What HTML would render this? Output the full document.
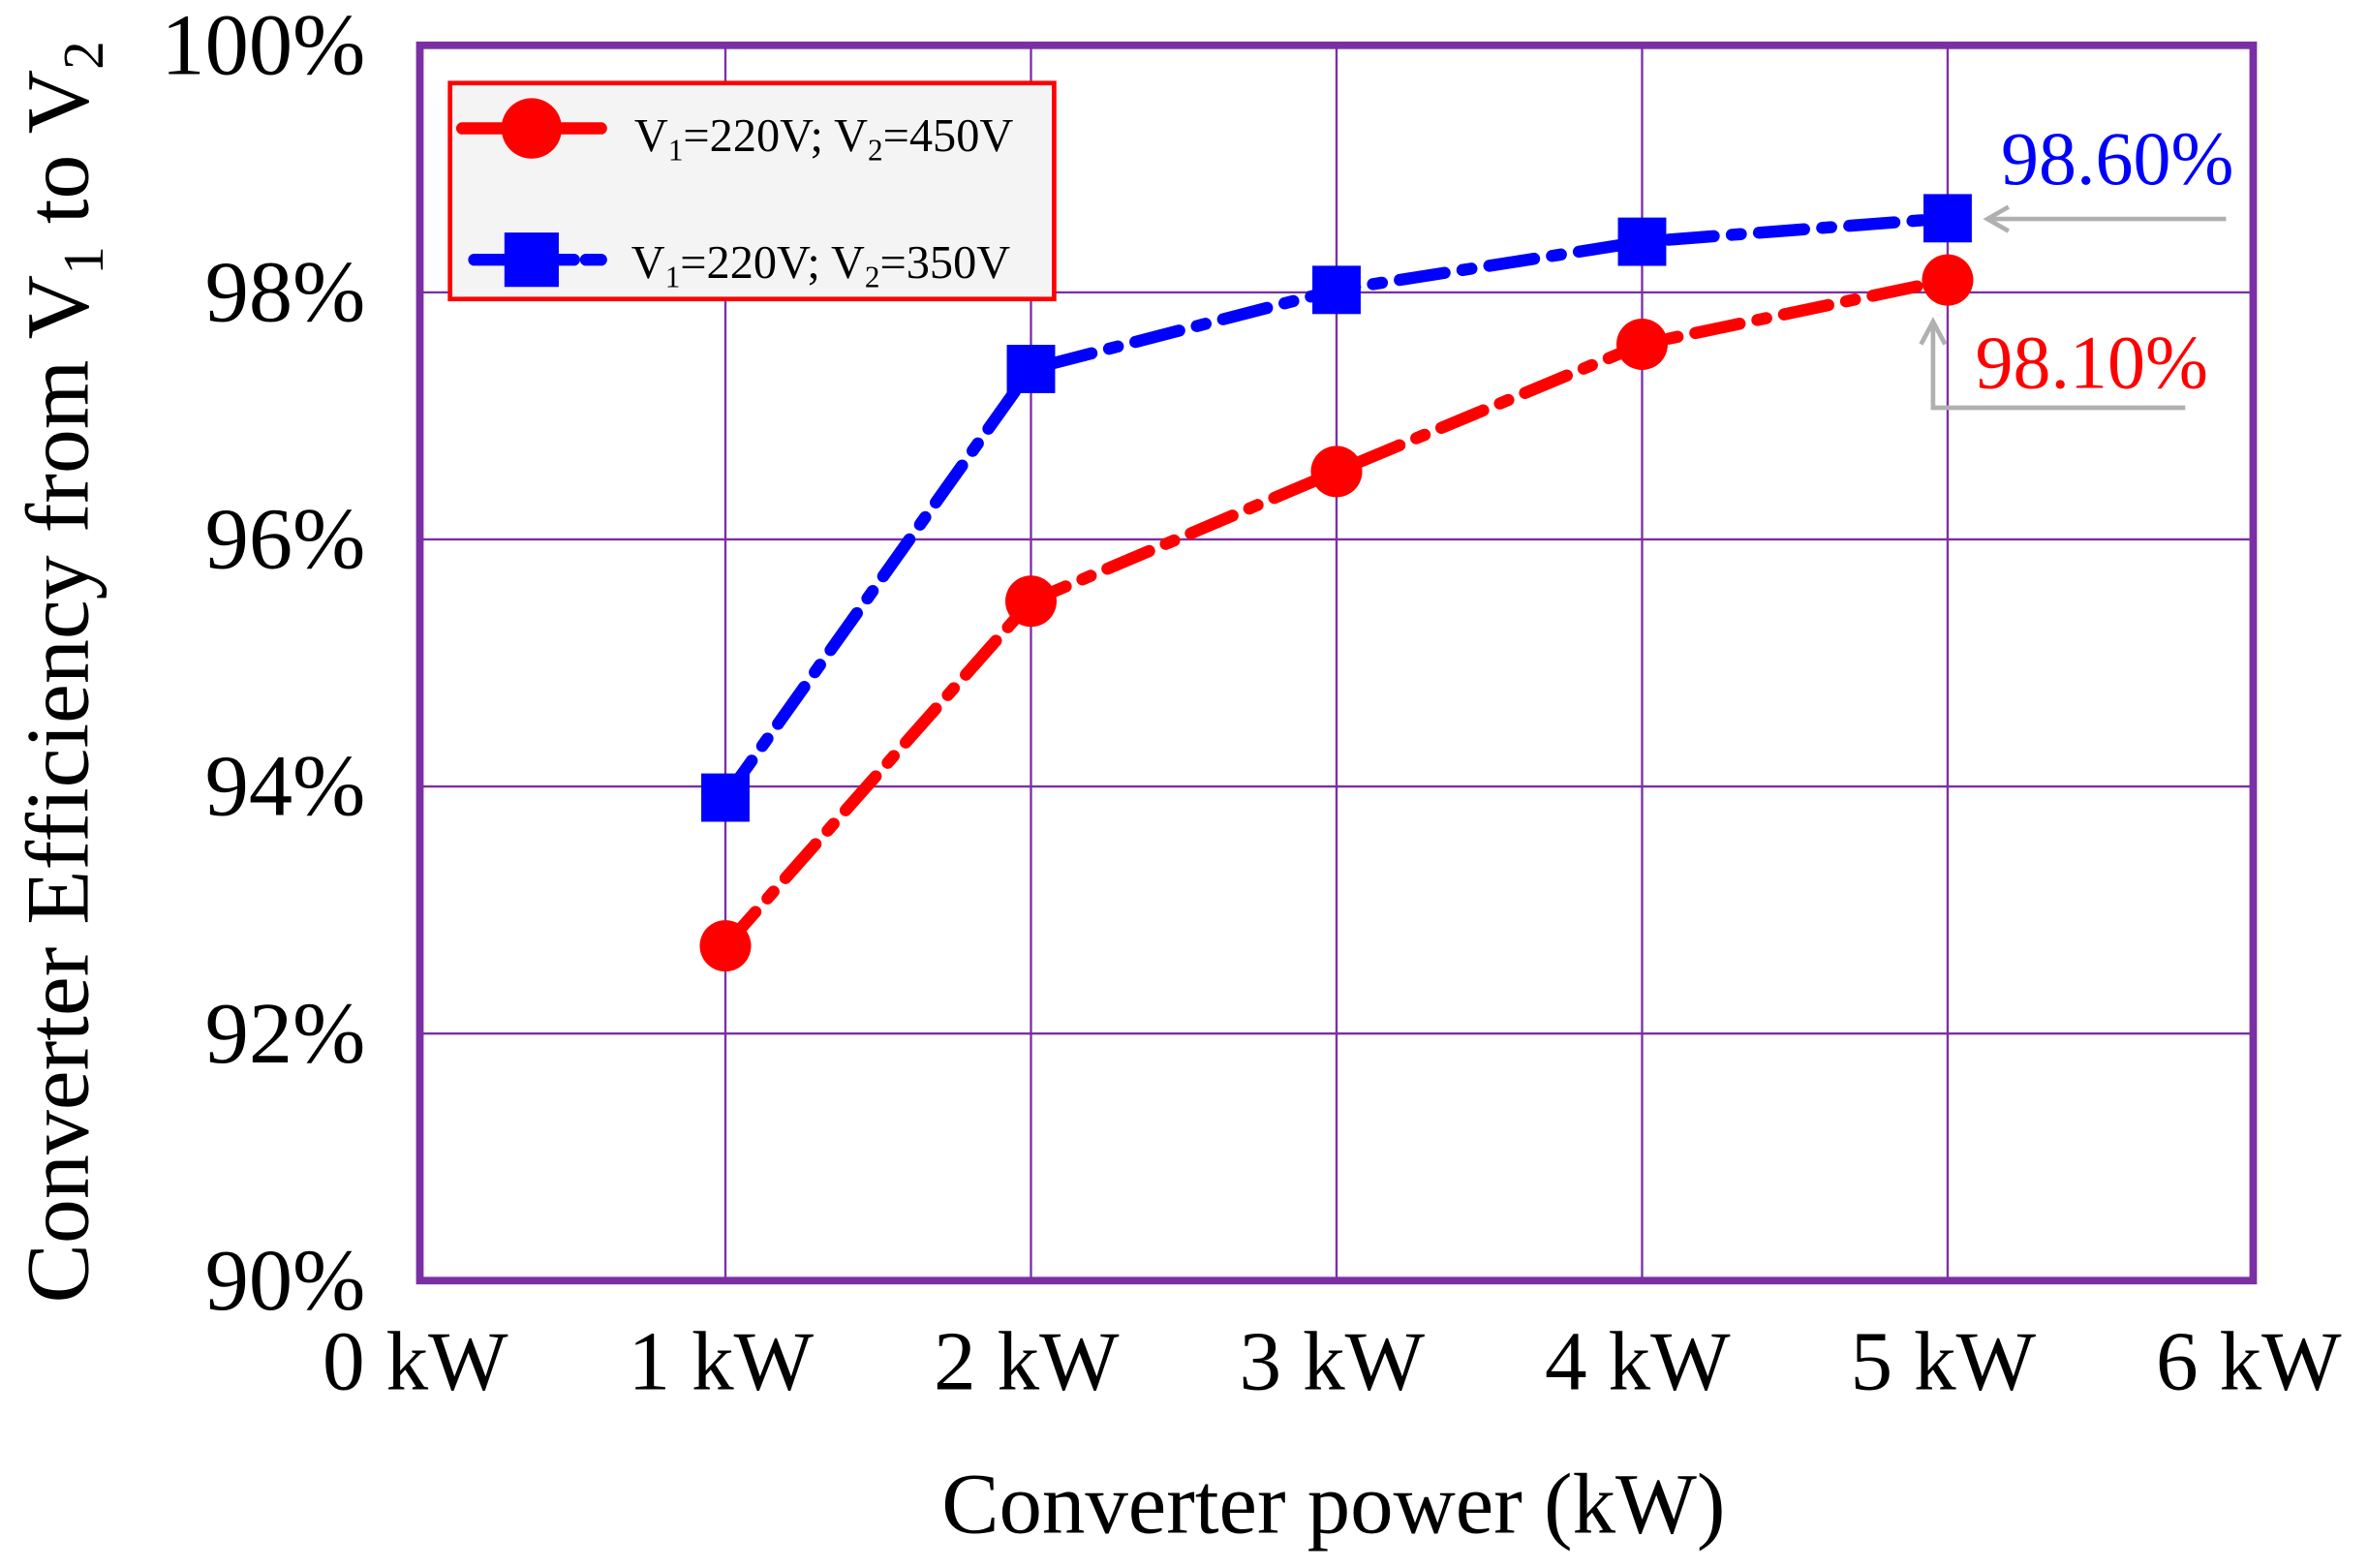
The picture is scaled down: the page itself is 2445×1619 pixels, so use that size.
<!DOCTYPE html>
<html><head><meta charset="utf-8"><style>
html,body{margin:0;padding:0;background:#fff;}
svg{display:block;font-family:"Liberation Serif",serif;}
</style></head><body>
<svg id="chart" width="2445" height="1619" viewBox="0 0 1568 1038.3" xmlns="http://www.w3.org/2000/svg">
<g id="grid"></g>
<rect x="278" y="30" width="1214" height="818" fill="none" stroke="#7b2fa5" stroke-width="5"/>
<g id="ticks" font-size="58" fill="#000"></g>
<g id="series"></g>
<text x="883" y="1015" font-size="57" text-anchor="middle">Converter power (kW)</text>
<text transform="translate(58,445) rotate(-90)" font-size="59" text-anchor="middle">Converter Efficiency from V<tspan font-size="38" dy="10">1</tspan><tspan dy="-10"> to V</tspan><tspan font-size="38" dy="10">2</tspan></text>
<g>
<rect x="298" y="55" width="400" height="143" fill="#f4f4f4" stroke="#ff0000" stroke-width="3"/>
<line x1="306" y1="85" x2="398" y2="85" stroke="#ff0000" stroke-width="8" stroke-dasharray="40,8,10,8" stroke-linecap="round"/>
<circle cx="352" cy="85" r="20" fill="#ff0000"/>
<text x="420" y="100" font-size="31">V<tspan font-size="20" dy="6">1</tspan><tspan dy="-6">=220V; V</tspan><tspan font-size="20" dy="6">2</tspan><tspan dy="-6">=450V</tspan></text>
<line x1="314" y1="172" x2="398" y2="172" stroke="#0000ff" stroke-width="8" stroke-dasharray="20,8,10,8" stroke-linecap="round"/>
<rect x="334" y="154" width="36" height="36" fill="#0000ff"/>
<text x="418" y="184" font-size="31">V<tspan font-size="20" dy="6">1</tspan><tspan dy="-6">=220V; V</tspan><tspan font-size="20" dy="6">2</tspan><tspan dy="-6">=350V</tspan></text>
</g>
<g>
<text x="1325" y="122" font-size="50" fill="#0000ff">98.60%</text>
<line x1="1474" y1="145" x2="1318" y2="145" stroke="#b0b0b0" stroke-width="3"/>
<polyline points="1330,137 1316,145 1330,153" fill="none" stroke="#b0b0b0" stroke-width="3"/>
<text x="1308" y="257" font-size="50" fill="#ff0000">98.10%</text>
<polyline points="1447,270 1280,270 1280,214" fill="none" stroke="#b0b0b0" stroke-width="3"/>
<polyline points="1272,228 1280,213 1288,228" fill="none" stroke="#b0b0b0" stroke-width="3"/>
</g>
</svg>
<script>
const xCats = [1, 2, 3, 4, 5];
const red450 = [92.71, 95.5, 96.55, 97.58, 98.1];
const blue350 = [93.91, 97.38, 98.02, 98.41, 98.6];
const yTicks = [90, 92, 94, 96, 98, 100];
const yTickLabels = ["90%", "92%", "94%", "96%", "98%", "100%"];
const xTicks = [0, 1, 2, 3, 4, 5, 6];
const xTickLabels = ["0 kW", "1 kW", "2 kW", "3 kW", "4 kW", "5 kW", "6 kW"];

const NS = "http://www.w3.org/2000/svg";
const L = 278, R = 1492, T = 30, B = 848;
function xs(v){ return L + (v - 0) / 6 * (R - L); }
function ys(v){ return B - (v - 90) / 10 * (B - T); }
function mk(tag, attrs, parent){ const e = document.createElementNS(NS, tag); for (const k in attrs) e.setAttribute(k, attrs[k]); parent.appendChild(e); return e; }

const grid = document.getElementById('grid');
yTicks.forEach(v => {
  const l = mk('line', {x1: L, x2: R, y1: ys(v), y2: ys(v), stroke: '#7b2fa5', 'stroke-width': 1.5}, grid);
  
  
});
xTicks.forEach(v => {
  const l = mk('line', {x1: xs(v), x2: xs(v), y1: T, y2: B, stroke: '#7b2fa5', 'stroke-width': 1.5}, grid);
  
  
});

const ticks = document.getElementById('ticks');
yTicks.forEach((v, i) => {
  const t = mk('text', {x: 242, y: ys(v) + 19, 'text-anchor': 'end'}, ticks);
  t.textContent = yTickLabels[i];
  
  
});
xTicks.forEach((v, i) => {
  const t = mk('text', {x: xs(v) - 3, y: 920, 'text-anchor': 'middle', 'font-size': 56}, ticks);
  t.textContent = xTickLabels[i];
  
  
});

const series = document.getElementById('series');
function drawSeries(vals, color, shape, name){
  const pts = xCats.map((c, i) => xs(c) + ',' + ys(vals[i])).join(' ');
  const pl = mk('polyline', {points: pts, fill: 'none', stroke: color, 'stroke-width': 8, 'stroke-dasharray': '30,12,6,12', 'stroke-linecap': 'round'}, series);
  
  
  xCats.forEach((c, i) => {
    let m;
    if (shape === 'circle') m = mk('circle', {cx: xs(c), cy: ys(vals[i]), r: 17, fill: color}, series);
    else m = mk('rect', {x: xs(c) - 16, y: ys(vals[i]) - 16, width: 32, height: 32, fill: color}, series);
    
    
  });
}
drawSeries(red450, '#ff0000', 'circle', 'series-450v');
drawSeries(blue350, '#0000ff', 'square', 'series-350v');
</script>
</body></html>
